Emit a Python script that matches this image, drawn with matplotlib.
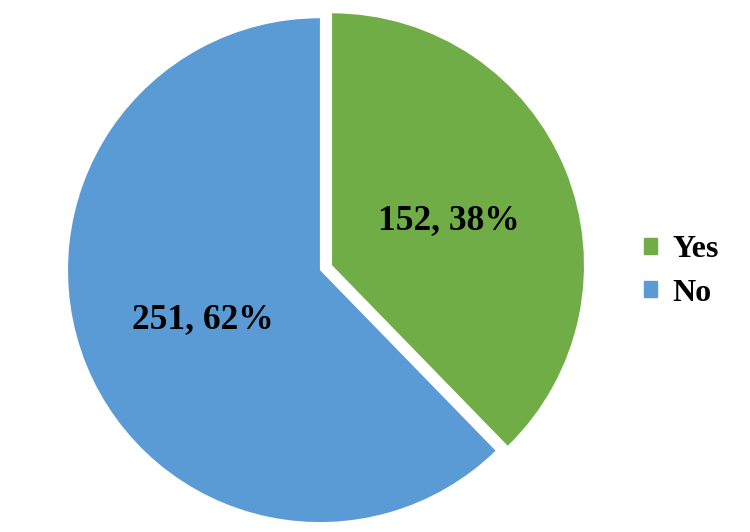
import matplotlib.pyplot as plt
import matplotlib.patches as mpatches
import numpy as np

labels = ["Yes", "No"]
counts = [152, 251]
colors = ["#70AD47", "#5B9BD5"]

plt.rcParams['font.family'] = ['Liberation Serif', 'DejaVu Serif']

fig = plt.figure(figsize=(7.5, 5.32), dpi=100)
ax = fig.add_axes([0.0739, -0.005, 529 / 750, 529 / 532])

total = sum(counts)

wedges, texts = ax.pie(counts, colors=colors, startangle=90, counterclock=False,
                       explode=[0.052, 0], radius=1.0,
                       wedgeprops=dict(linewidth=0))[:2]
for w, c in zip(wedges, counts):
    ang = np.deg2rad((w.theta1 + w.theta2) / 2)
    cx, cy = w.center
    ax.text(cx + 0.5 * np.cos(ang), cy + 0.5 * np.sin(ang) - 0.01,
            "%d, %d%%" % (c, round(100 * c / total)),
            ha="center", va="center", fontsize=25.5, fontweight="bold")

ax.set_xlim(-1.05, 1.05)
ax.set_ylim(-1.05, 1.05)
ax.set_aspect("equal")
ax.axis("off")

handles = [mpatches.Patch(color=c, label=l) for c, l in zip(colors, labels)]
fig.legend(handles=handles, loc="center left", bbox_to_anchor=(0.82, 0.49),
           frameon=False, prop=dict(size=23, weight="bold"),
           handlelength=0.4, handleheight=0.4, handletextpad=0.5,
           labelspacing=0.45)

fig.savefig("out.png", dpi=100)
